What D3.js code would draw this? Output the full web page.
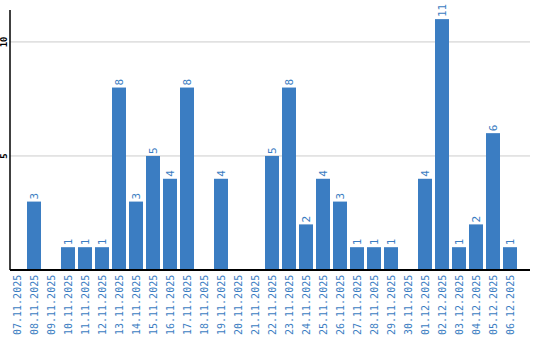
<html>
<head>
    <script src="https://d3js.org/d3.v7.min.js"></script>
    <style>
        body { margin: 0; background: #fff; }
        text { font-family: "DejaVu Sans Mono", monospace; }
    </style>
</head>
<body>
    <svg id="plot"></svg>
    <script>
        var dates = ["07.11.2025","08.11.2025","09.11.2025","10.11.2025","11.11.2025",
            "12.11.2025","13.11.2025","14.11.2025","15.11.2025","16.11.2025",
            "17.11.2025","18.11.2025","19.11.2025","20.11.2025","21.11.2025",
            "22.11.2025","23.11.2025","24.11.2025","25.11.2025","26.11.2025",
            "27.11.2025","28.11.2025","29.11.2025","30.11.2025","01.12.2025",
            "02.12.2025","03.12.2025","04.12.2025","05.12.2025","06.12.2025"];
        var counts = [0,3,0,1,1,1,8,3,5,4,8,0,4,0,0,5,8,2,4,3,1,1,1,0,4,11,1,2,6,1];
        var yTicks = [5, 10];

        var SizeX = 540, SizeY = 340;
        var Plot = {left: 10, right: 530, top: 10, bottom: 270};
        var blue = "#3b7dc2";

        var svg = d3.select("#plot")
            .attr("width", SizeX)
            .attr("height", SizeY);

        var x = d3.scaleBand()
            .domain(dates)
            .range([Plot.left, Plot.left + 510])
            .paddingInner(3/17)
            .paddingOuter(3/34)
            .align(0);

        var y = d3.scaleLinear()
            .domain([0, 11.4])
            .range([Plot.bottom, Plot.top]);

        // gridlines
        svg.selectAll(".grid")
            .data(yTicks)
            .enter().append("line")
                .attr("x1", Plot.left).attr("x2", Plot.right)
                .attr("y1", function(d){ return y(d); })
                .attr("y2", function(d){ return y(d); })
                .attr("stroke", "#cccccc");

        // y tick labels
        svg.selectAll(".ylab")
            .data(yTicks)
            .enter().append("text")
                .attr("transform", function(d){ return "translate(7," + y(d) + ") rotate(-90)"; })
                .attr("text-anchor", "middle")
                .attr("font-size", 9)
                .attr("font-weight", "bold")
                .attr("fill", "#000")
                .text(function(d){ return d; });

        var data = dates.map(function(d, i){ return {date: d, value: counts[i]}; })
            .filter(function(d){ return d.value > 0; });

        svg.selectAll(".bar")
            .data(data)
            .enter().append("rect")
                .attr("x", function(d){ return x(d.date); })
                .attr("y", function(d){ return y(d.value); })
                .attr("width", x.bandwidth())
                .attr("height", function(d){ return Plot.bottom - y(d.value); })
                .attr("fill", blue);

        svg.selectAll(".val")
            .data(data)
            .enter().append("text")
                .attr("transform", function(d){
                    return "translate(" + (x(d.date) + x.bandwidth()/2 + 4) + "," + (y(d.value) - 2) + ") rotate(-90)";
                })
                .attr("font-size", 11)
                .attr("fill", blue)
                .text(function(d){ return d.value; });

        // x labels
        svg.selectAll(".xlab")
            .data(dates)
            .enter().append("text")
                .attr("transform", function(d){
                    return "translate(" + (x(d) + x.bandwidth()/2 + 4) + ",335) rotate(-90)";
                })
                .attr("font-size", 10)
                .attr("fill", blue)
                .text(function(d){ return d; });

        // axis lines
        svg.append("line")
            .attr("x1", Plot.left).attr("x2", Plot.left)
            .attr("y1", Plot.top).attr("y2", Plot.bottom)
            .attr("stroke", "#000").attr("stroke-width", 1.5);
        svg.append("line")
            .attr("x1", Plot.left).attr("x2", Plot.right)
            .attr("y1", Plot.bottom).attr("y2", Plot.bottom)
            .attr("stroke", "#000").attr("stroke-width", 2);
    </script>
</body>
</html>
